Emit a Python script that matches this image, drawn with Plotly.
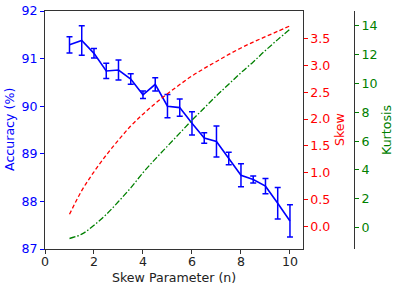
import plotly.graph_objects as go

n_vals = [1, 1.5, 2, 2.5, 3, 3.5, 4, 4.5, 5, 5.5, 6, 6.5, 7, 7.5, 8, 8.5, 9, 9.5, 10]
accuracy = [91.29, 91.38, 91.11, 90.74, 90.76, 90.57, 90.24, 90.46, 90.00, 89.97,
            89.64, 89.33, 89.26, 88.90, 88.55, 88.46, 88.32, 87.96, 87.59]
acc_err = [0.17, 0.31, 0.10, 0.16, 0.21, 0.11, 0.08, 0.14, 0.245, 0.18,
           0.245, 0.11, 0.325, 0.13, 0.24, 0.075, 0.16, 0.33, 0.34]
skew = [0.23, 0.67, 1.02, 1.33, 1.61, 1.87, 2.09, 2.29, 2.47, 2.64,
        2.80, 2.94, 3.07, 3.20, 3.32, 3.43, 3.53, 3.63, 3.73]
kurtosis = [-0.77, -0.47, 0.15, 0.90, 1.80, 2.75, 3.80, 4.75, 5.65, 6.55,
            7.45, 8.30, 9.15, 9.95, 10.75, 11.50, 12.30, 13.05, 13.78]

x_ticks = [0, 2, 4, 6, 8, 10]
acc_ticks = [87, 88, 89, 90, 91, 92]
skew_ticks = [0.0, 0.5, 1.0, 1.5, 2.0, 2.5, 3.0, 3.5]
kurt_ticks = [0, 2, 4, 6, 8, 10, 12, 14]

FONT = "DejaVu Sans"
FS = 12.6
W, H = 399, 291
ml, mr, mt, mb = 45, 30, 11, 42
pw = W - ml - mr
ph = H - mt - mb
x_right = (302.7 - ml) / pw
green_pos = (354 - ml) / pw

def px_x(p):
    return (p - ml) / pw

def px_y(p):
    return (H - mb - p) / ph

fig = go.Figure()
fig.add_trace(go.Scatter(
    x=n_vals, y=accuracy, mode="lines",
    line=dict(color="blue", width=1.6),
    error_y=dict(type="data", array=acc_err, visible=True, color="blue", thickness=1.5, width=3),
    yaxis="y", showlegend=False))
fig.add_trace(go.Scatter(
    x=n_vals, y=skew, mode="lines", line=dict(color="red", width=1.3, dash="4px,2.5px", shape="spline"),
    yaxis="y2", showlegend=False))
fig.add_trace(go.Scatter(
    x=n_vals, y=kurtosis, mode="lines", line=dict(color="green", width=1.3, dash="6px,2px,1.5px,2px", shape="spline"),
    yaxis="y3", showlegend=False))

fig.update_layout(
    width=W, height=H,
    margin=dict(l=ml, r=mr, t=mt, b=mb, autoexpand=False),
    paper_bgcolor="white", plot_bgcolor="white",
    font=dict(family=FONT, size=FS, color="black"),
    xaxis=dict(domain=[0, x_right], range=[0, 10.52], tickvals=x_ticks, automargin=False,
               showgrid=False, zeroline=False, showline=True, linecolor="#333", linewidth=1,
               mirror=True, ticks="outside", ticklen=4, tickcolor="#333", ticklabelstandoff=-3,
               tickfont=dict(family=FONT, size=FS, color="#222")),
    yaxis=dict(range=[87, 92], tickvals=acc_ticks, showgrid=False, zeroline=False, automargin=False,
               showline=True, linecolor="#333", linewidth=1, mirror=True,
               ticks="outside", ticklen=4, tickcolor="blue",
               tickfont=dict(family=FONT, size=FS, color="blue")),
    yaxis2=dict(range=[-0.414, 4.007], tickvals=skew_ticks, tickformat=".1f", automargin=False,
                overlaying="y", side="right", anchor="x", showgrid=False, zeroline=False,
                showline=False, ticks="outside", ticklen=4, tickcolor="red",
                tickfont=dict(family=FONT, size=FS, color="red")),
    yaxis3=dict(range=[-1.5, 15.04], tickvals=kurt_ticks, automargin=False,
                overlaying="y", side="right", anchor="free", position=green_pos,
                showgrid=False, zeroline=False, showline=True, linecolor="#333", linewidth=1,
                ticks="outside", ticklen=4, tickcolor="green",
                tickfont=dict(family=FONT, size=FS, color="green")),
)

titles = [
    ("Skew Parameter (n)", (ml + 302.7) / 2, 277.5, 0, "#222"),
    ("Accuracy (%)", 9, 130, -90, "blue"),
    ("Skew", 339, 130, -90, "red"),
    ("Kurtosis", 386, 130, -90, "green"),
]
for text, xp, yp, ang, col in titles:
    fig.add_annotation(text=text, xref="paper", yref="paper", x=px_x(xp), y=px_y(yp),
                       xanchor="center", yanchor="middle", showarrow=False, textangle=ang,
                       font=dict(family=FONT, size=FS, color=col))

fig.write_html("out.html", config={"displayModeBar": False},
               post_script="document.body.style.margin='0';document.body.style.overflow='hidden';")
